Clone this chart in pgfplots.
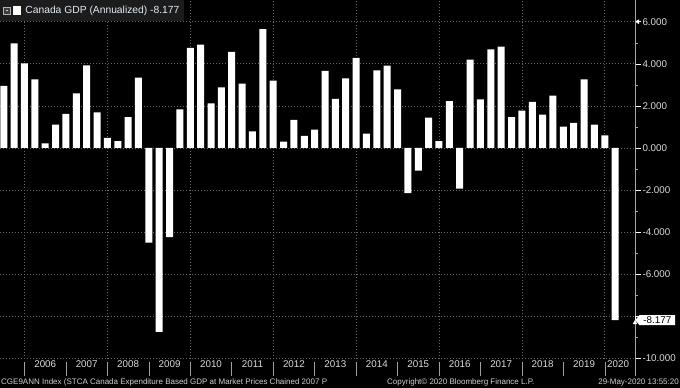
\documentclass[border=0pt]{standalone}
\usepackage{fontspec}
\setmainfont{Liberation Sans}
\usepackage{pgfplots}
\pgfplotsset{compat=1.18}
\usetikzlibrary{shapes.symbols,arrows.meta}
\definecolor{txt}{HTML}{DCDCDC}
\definecolor{gridc}{HTML}{6A6A6A}
\definecolor{legbg}{HTML}{1C1C1C}
\definecolor{legtxt}{HTML}{E4ECF4}
\definecolor{foot}{HTML}{CFCFCF}

\pgfplotstableread{
x y
2005.50 2.95
2005.75 4.97
2006.00 4.02
2006.25 3.26
2006.50 0.22
2006.75 1.11
2007.00 1.62
2007.25 2.60
2007.50 3.93
2007.75 1.69
2008.00 0.48
2008.25 0.33
2008.50 1.47
2008.75 3.34
2009.00 -4.50
2009.25 -8.73
2009.50 -4.24
2009.75 1.84
2010.00 4.75
2010.25 4.91
2010.50 2.12
2010.75 2.88
2011.00 4.56
2011.25 3.06
2011.50 0.79
2011.75 5.65
2012.00 3.20
2012.25 0.30
2012.50 1.33
2012.75 0.57
2013.00 0.87
2013.25 3.66
2013.50 2.33
2013.75 3.31
2014.00 4.28
2014.25 0.68
2014.50 3.69
2014.75 3.91
2015.00 2.79
2015.25 -2.15
2015.50 -1.08
2015.75 1.44
2016.00 0.33
2016.25 2.23
2016.50 -1.93
2016.75 4.20
2017.00 2.31
2017.25 4.69
2017.50 4.81
2017.75 1.47
2018.00 1.77
2018.25 2.19
2018.50 1.58
2018.75 2.49
2019.00 1.01
2019.25 1.19
2019.50 3.26
2019.75 1.11
2020.00 0.60
2020.25 -8.177
}\gdp

\begin{document}
\begin{tikzpicture}[x=1pt,y=1pt]
\fill[black] (0,0) rectangle (680,388);
\useasboundingbox (0,0) rectangle (680,388);
\begin{axis}[
  at={(0pt,29.5pt)}, anchor=south west,
  scale only axis, width=635pt, height=358.5pt,
  xmin=2005.409, xmax=2020.729, ymin=-10, ymax=7.03,
  axis x line*=bottom, axis y line*=right,
  x axis line style={draw=none},
  y axis line style={draw=gray!70},
  tick align=outside,
  major tick length=6pt, minor tick length=3pt,
  ytick={-10,-8,-6,-4,-2,0,2,4,6},
  yticklabels={-10.000,,-6.000,-4.000,-2.000,0.000,2.000,4.000,6.000},
  minor y tick num=1,
  minor y tick style={draw=gray!70},
  major y tick style={draw=white, line width=0.4pt, -{Triangle[length=4pt,width=4.5pt]}},
  yticklabel style={text=txt, font=\fontsize{9.8}{11}\selectfont, anchor=west, xshift=-2pt},
  xtick={2006,2008,2010,2012,2014,2016,2018,2020},
  xticklabels={},
  xmajorgrids, ymajorgrids,
  major grid style={gridc, line width=0.7pt, dash pattern=on 0.8pt off 2.2pt},
  major x tick style={draw=none},
  extra x ticks={2006.5,2007.5,2008.5,2009.5,2010.5,2011.5,2012.5,2013.5,2014.5,2015.5,2016.5,2017.5,2018.5,2019.5,2020.32},
  extra x tick labels={2006,2007,2008,2009,2010,2011,2012,2013,2014,2015,2016,2017,2018,2019,2020},
  extra x tick style={grid=none, major tick length=0pt, tick style={draw=none},
    xticklabel style={text=txt, font=\fontsize{9.8}{11}\selectfont, yshift=1pt}},
  extra y ticks={-8.177},
  extra y tick labels={-8.177},
  extra y tick style={grid=none, major tick length=0pt, tick style={draw=none},
    yticklabel style={fill=white, text=black, shape=signal, signal to=west,
      signal pointer angle=100, inner xsep=4pt, inner ysep=1.5pt, xshift=2pt}},
  legend style={at={(0,1)}, anchor=north west, fill=legbg, draw=none,
    font=\fontsize{10.3}{12}\selectfont, text=legtxt,
    inner xsep=3pt, inner ysep=4pt},
  legend cell align=left,
  legend image code/.code={
    \draw[gray!60, fill=black!75, line width=0.4pt] (1pt,-3.5pt) rectangle (8pt,3.5pt);
    \fill[gray!45] (3.5pt,-0.3pt) rectangle (5.5pt,0.3pt);
    \fill[white] (10.5pt,-4.5pt) rectangle (19pt,4.5pt);
    \path (21pt,0pt);
  },
]
\addplot[ybar, bar width=7pt, bar shift=0pt, fill=white, draw=none] table[x=x, y=y] {\gdp};
\addlegendentry{Canada GDP (Annualized) -8.177}
\end{axis}
% year separators below the axis
\foreach \k in {0,...,14} {
  \draw[gray!75, line width=0.6pt] ({24.5+41.45*\k}, 26) -- ++(0,-14);
}
\draw[gray!70] (635,29.5) -- (635,12);
% footer
\node[anchor=base west, inner sep=0pt, text=foot, font=\fontsize{8}{9}\selectfont] at (1,3) {CGE9ANN Index (STCA Canada Expenditure Based GDP at Market Prices Chained 2007 P};
\node[anchor=base west, inner sep=0pt, text=foot, font=\fontsize{8}{9}\selectfont] at (387,3) {Copyright© 2020 Bloomberg Finance L.P.};
\node[anchor=base east, inner sep=0pt, text=foot, font=\fontsize{8}{9}\selectfont] at (679,3) {29-May-2020 13:55:20};
\end{tikzpicture}
\end{document}
